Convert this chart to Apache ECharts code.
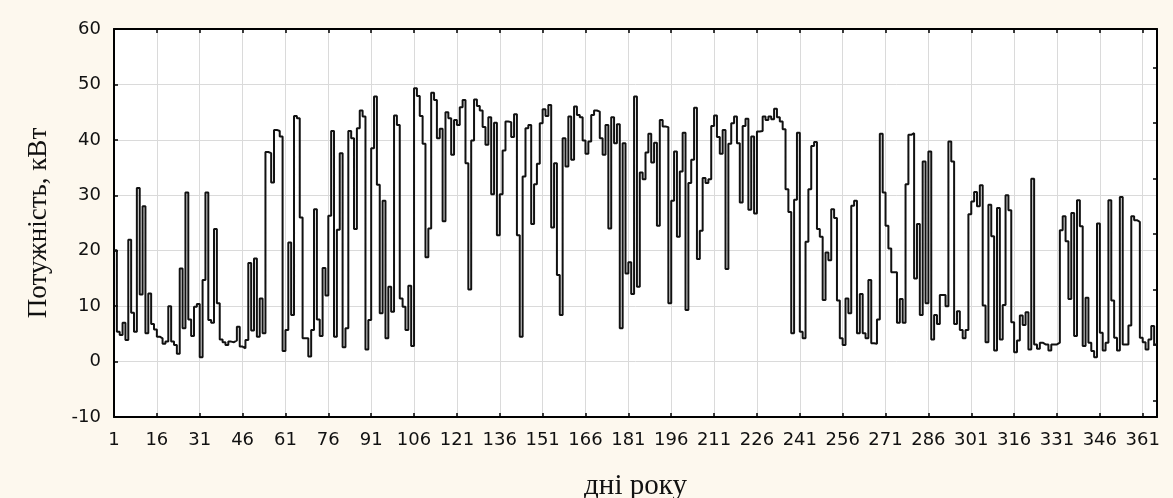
<!DOCTYPE html>
<html>
<head>
<meta charset="utf-8">
<script src="https://cdn.jsdelivr.net/npm/echarts@6/dist/echarts.min.js"></script>
<style>
  html, body { margin: 0; padding: 0; background: #fdf8ee; }
  #chart { width: 1173px; height: 498px; }
</style>
</head>
<body>
<div id="chart"></div>
<script>
// daily power, kW
const powerDays1to62 = [20.1, 5.4, 4.8, 7.0, 3.9, 22, 8.8, 5.4, 31.3, 12.1, 28, 5.1, 12.3, 6.8, 5.8, 4.5, 4.2, 3.2, 3.6, 10,
  3.6, 3, 1.4, 16.8, 6, 30.5, 7.6, 4.6, 9.9, 10.4, 0.8, 14.7, 30.5, 7.5, 7.0, 23.9, 10.5, 4, 3.5, 3,
  3.6, 3.5, 3.8, 6.3, 2.7, 2.4, 3.9, 17.8, 5.6, 18.6, 4.5, 11.4, 5.1, 37.8, 37.6, 32.3, 41.8, 41.6, 40.6, 1.9,
  5.7, 21.5];
const powerDays63to118 = [8.4, 44.3, 43.9, 26, 4.2, 4.2, 0.9, 5.7, 27.5, 7.6, 4.6, 16.9, 11.9, 26.3, 41.6, 4.5, 23.8, 37.6, 2.6, 6,
  41.6, 40.3, 23.9, 42.1, 45.3, 44.2, 2.2, 7.5, 38.5, 47.8, 31.9, 8.7, 29, 4.2, 13.5, 9, 44.4, 42.7, 11.4, 9.9,
  5.7, 13.7, 2.8, 49.3, 47.9, 44.3, 39.3, 18.8, 24, 48.5, 47.2, 40.3, 42, 25.3, 45, 43.9];
const powerDays119to177 = [37.3, 43.6, 42.7, 45.9, 47.2, 35.8, 13, 39.9, 47.3, 46.1, 45.3, 42.3, 39.1, 44.1, 30.2, 43.1, 22.8, 30.2, 38.1, 43.3,
  43.2, 40.5, 44.6, 22.8, 4.5, 33.4, 42.1, 42.7, 24.8, 32, 35.7, 43, 45.5, 44.3, 46.3, 24.2, 35.8, 15.6, 8.4, 40.3,
  35.2, 44.2, 36.4, 46, 44.5, 44.1, 39.9, 37.5, 39.7, 44.5, 45.3, 45.1, 40.3, 37.3, 42.7, 24, 44.1, 39.4, 42.8];
const powerDays178to236 = [6, 39.4, 15.9, 17.9, 12.2, 47.8, 13.5, 34.1, 32.9, 37.7, 41.1, 35.9, 39.5, 24.5, 43.6, 42.4, 42.3, 10.5, 29, 37.9,
  22.5, 34.3, 41.3, 9.3, 32.2, 36.4, 45.8, 18.5, 23.6, 33.1, 32.2, 32.9, 42.5, 44.4, 40.5, 37.5, 41.8, 16.7, 39.3, 43,
  44.2, 39.4, 28.7, 42.5, 43.8, 27.4, 40.6, 26.7, 41.5, 41.6, 44.2, 43.6, 44.2, 43.7, 45.6, 44.1, 43.3, 41.9, 31.1];
const powerDays237to300 = [27, 5.1, 29.2, 41.3, 5.4, 4.2, 21.6, 31.1, 38.9, 39.6, 23.9, 22.5, 11.1, 19.7, 18.3, 27.5, 25.9, 11, 4.2, 3,
  11.4, 8.7, 28.1, 29, 5.1, 12.2, 5.1, 4.2, 14.7, 3.3, 3.2, 7.6, 41.1, 30.5, 24.5, 20.4, 16.1, 16.1, 7, 11.3,
  7, 32, 40.9, 41.2, 15, 24.8, 8.4, 36.1, 10.5, 37.9, 4, 8.4, 6.8, 12, 12, 10, 39.7, 36.1, 6.8, 9.1,
  5.7, 4.2, 5.7, 26.6];
const powerDays301to365 = [28.9, 30.6, 28, 31.8, 10.1, 3.5, 28.3, 22.6, 2, 27.7, 4, 10.2, 30, 27.3, 7.1, 1.7, 3.8, 8.3, 6.6, 8.9,
  2.2, 33, 3.1, 2.3, 3.4, 3.1, 3.1, 2, 3.1, 3.1, 3.4, 23.7, 26.2, 21.7, 11.3, 26.8, 4.6, 29.1, 24.4, 2.8,
  11.5, 3.4, 1.9, 0.8, 24.9, 5.2, 2, 3.4, 29.1, 11, 4.3, 2, 29.7, 3.1, 3.1, 6.5, 26.2, 25.5, 25.2, 4.3,
  3.5, 2.2, 4, 6.4, 3.1];

const power = [].concat(powerDays1to62, powerDays63to118, powerDays119to177,
  powerDays178to236, powerDays237to300, powerDays301to365);

// day labels 1..366 (last one only closes the final step)
const days = [];
for (let d = 1; d <= power.length + 1; d++) days.push(String(d));

const rightTicks = [-7, 3, 13, 23, 33, 43, 53];

const chart = echarts.init(document.getElementById('chart'), null, { renderer: 'canvas' });

const labelFont = { fontFamily: 'DejaVu Sans', fontSize: 18, color: '#111' };
const frame = { show: true, onZero: false, lineStyle: { color: '#000', width: 2 } };

chart.setOption({
  backgroundColor: '#fdf8ee',
  animation: false,
  grid: {
    left: 114, right: 16, top: 29, bottom: 81,
    containLabel: false,
    outerBoundsMode: 'none',
    show: true, backgroundColor: '#fff', borderWidth: 0
  },
  xAxis: [
    {
      type: 'category',
      data: days,
      boundaryGap: false,
      position: 'bottom',
      axisLine: frame,
      axisTick: { show: true, inside: true, length: 4, interval: 14, lineStyle: { color: '#000', width: 1.5 } },
      axisLabel: Object.assign({ interval: 14, margin: 14 }, labelFont),
      splitLine: { show: true, interval: 14, lineStyle: { color: '#dadada', width: 1 } },
      name: 'дні року',
      nameLocation: 'middle',
      nameGap: 55,
      nameTextStyle: { fontFamily: 'Liberation Serif', fontSize: 29, color: '#111' }
    },
    {
      type: 'category',
      data: days,
      boundaryGap: false,
      position: 'top',
      axisLine: frame,
      axisTick: { show: true, inside: true, length: 4, interval: 14, lineStyle: { color: '#000', width: 1.5 } },
      axisLabel: { show: false },
      splitLine: { show: false }
    }
  ],
  yAxis: [
    {
      type: 'value',
      min: -10, max: 60, interval: 10,
      axisLine: frame,
      axisTick: { show: true, inside: true, length: 4, lineStyle: { color: '#000', width: 1.5 } },
      axisLabel: Object.assign({ margin: 13 }, labelFont),
      splitLine: { show: true, lineStyle: { color: '#dadada', width: 1 } },
      name: 'Потужність, кВт',
      nameLocation: 'middle',
      nameGap: 62,
      nameTextStyle: { fontFamily: 'Liberation Serif', fontSize: 27, color: '#111' }
    },
    {
      type: 'value',
      position: 'right',
      min: -10, max: 60,
      axisLine: frame,
      axisTick: { show: true, inside: true, length: 4, customValues: rightTicks, lineStyle: { color: '#000', width: 1.5 } },
      axisLabel: { show: false },
      splitLine: { show: false }
    }
  ],
  series: [
    {
      type: 'line',
      step: 'end',
      xAxisIndex: 0,
      yAxisIndex: 0,
      data: power.concat([power[power.length - 1]]),
      symbol: 'none',
      lineStyle: { color: '#111', width: 2 }
    }
  ]
});
</script>
</body>
</html>
